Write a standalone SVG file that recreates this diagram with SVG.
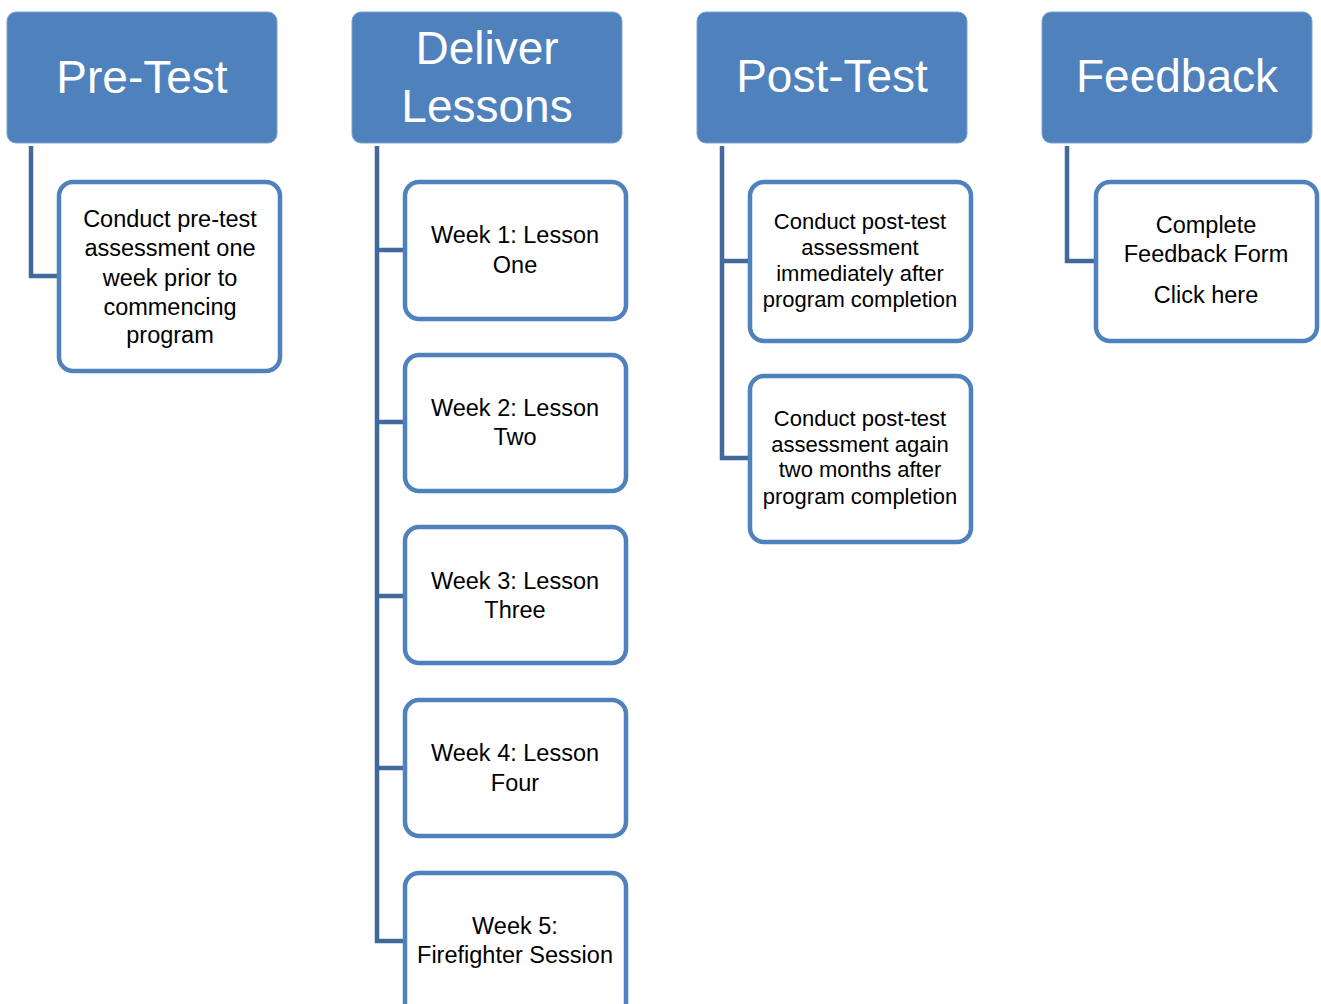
<svg xmlns="http://www.w3.org/2000/svg" width="1321" height="1004" viewBox="0 0 1321 1004">
<style>
.hdr{fill:#4F81BD;stroke:#7FA3CE;stroke-width:1}
.hdr-t{font-family:"Liberation Sans",Arial,sans-serif;font-size:46px;fill:#FFFFFF;text-anchor:middle}
.box{fill:#FFFFFF;stroke:#4F81BD;stroke-width:4.5}
.t{font-family:"Liberation Sans",Arial,sans-serif;font-size:23.5px;fill:#000000;text-anchor:middle}
.ts{font-family:"Liberation Sans",Arial,sans-serif;font-size:22px;fill:#000000;text-anchor:middle}
.conn{fill:none;stroke:#41699B;stroke-width:4.5;stroke-linejoin:miter}
</style>
<rect width="1321" height="1004" fill="#FFFFFF"/>
<g id="connectors">
<path class="conn" d="M31 146 V276 H59"/>
<path class="conn" d="M377 146 V941 H405 M377 250 H405 M377 422 H405 M377 596 H405 M377 768 H405"/>
<path class="conn" d="M722 146 V458 H750 M722 261 H750"/>
<path class="conn" d="M1067 146 V261 H1096"/>
</g>
<g id="pretest">
<rect class="hdr" x="7" y="12" width="270" height="131" rx="9"/>
<text class="hdr-t" x="142" y="93">Pre-Test</text>
</g>
<g id="pretest-1">
<rect class="box" x="59" y="182" width="221" height="189" rx="14"/>
<text class="t" x="170" y="227">Conduct pre-test</text>
<text class="t" x="170" y="256">assessment one</text>
<text class="t" x="170" y="286">week prior to</text>
<text class="t" x="170" y="315">commencing</text>
<text class="t" x="170" y="343">program</text>
</g>
<g id="deliver">
<rect class="hdr" x="352" y="12" width="270" height="131" rx="9"/>
<text class="hdr-t" x="487" y="64">Deliver</text>
<text class="hdr-t" x="487" y="122">Lessons</text>
</g>
<g id="week1">
<rect class="box" x="405" y="182" width="221" height="137" rx="14"/>
<text class="t" x="515" y="243">Week 1: Lesson</text>
<text class="t" x="515" y="273">One</text>
</g>
<g id="week2">
<rect class="box" x="405" y="355" width="221" height="136" rx="14"/>
<text class="t" x="515" y="416">Week 2: Lesson</text>
<text class="t" x="515" y="445">Two</text>
</g>
<g id="week3">
<rect class="box" x="405" y="527" width="221" height="136" rx="14"/>
<text class="t" x="515" y="589">Week 3: Lesson</text>
<text class="t" x="515" y="618">Three</text>
</g>
<g id="week4">
<rect class="box" x="405" y="700" width="221" height="136" rx="14"/>
<text class="t" x="515" y="761">Week 4: Lesson</text>
<text class="t" x="515" y="791">Four</text>
</g>
<g id="week5">
<rect class="box" x="405" y="873" width="221" height="160" rx="14"/>
<text class="t" x="515" y="934">Week 5:</text>
<text class="t" x="515" y="963">Firefighter Session</text>
</g>
<g id="posttest">
<rect class="hdr" x="697" y="12" width="270" height="131" rx="9"/>
<text class="hdr-t" x="832" y="92">Post-Test</text>
</g>
<g id="posttest-1">
<rect class="box" x="750" y="182" width="221" height="159" rx="14"/>
<text class="ts" x="860" y="229">Conduct post-test</text>
<text class="ts" x="860" y="255">assessment</text>
<text class="ts" x="860" y="281">immediately after</text>
<text class="ts" x="860" y="307">program completion</text>
</g>
<g id="posttest-2">
<rect class="box" x="750" y="376" width="221" height="166" rx="14"/>
<text class="ts" x="860" y="426">Conduct post-test</text>
<text class="ts" x="860" y="452">assessment again</text>
<text class="ts" x="860" y="477">two months after</text>
<text class="ts" x="860" y="504">program completion</text>
</g>
<g id="feedback">
<rect class="hdr" x="1042" y="12" width="270" height="131" rx="9"/>
<text class="hdr-t" x="1177" y="92">Feedback</text>
</g>
<g id="feedback-1">
<rect class="box" x="1096" y="182" width="221" height="159" rx="14"/>
<text class="t" x="1206" y="233">Complete</text>
<text class="t" x="1206" y="262">Feedback Form</text>
<text class="t" x="1206" y="303">Click here</text>
</g>
</svg>
